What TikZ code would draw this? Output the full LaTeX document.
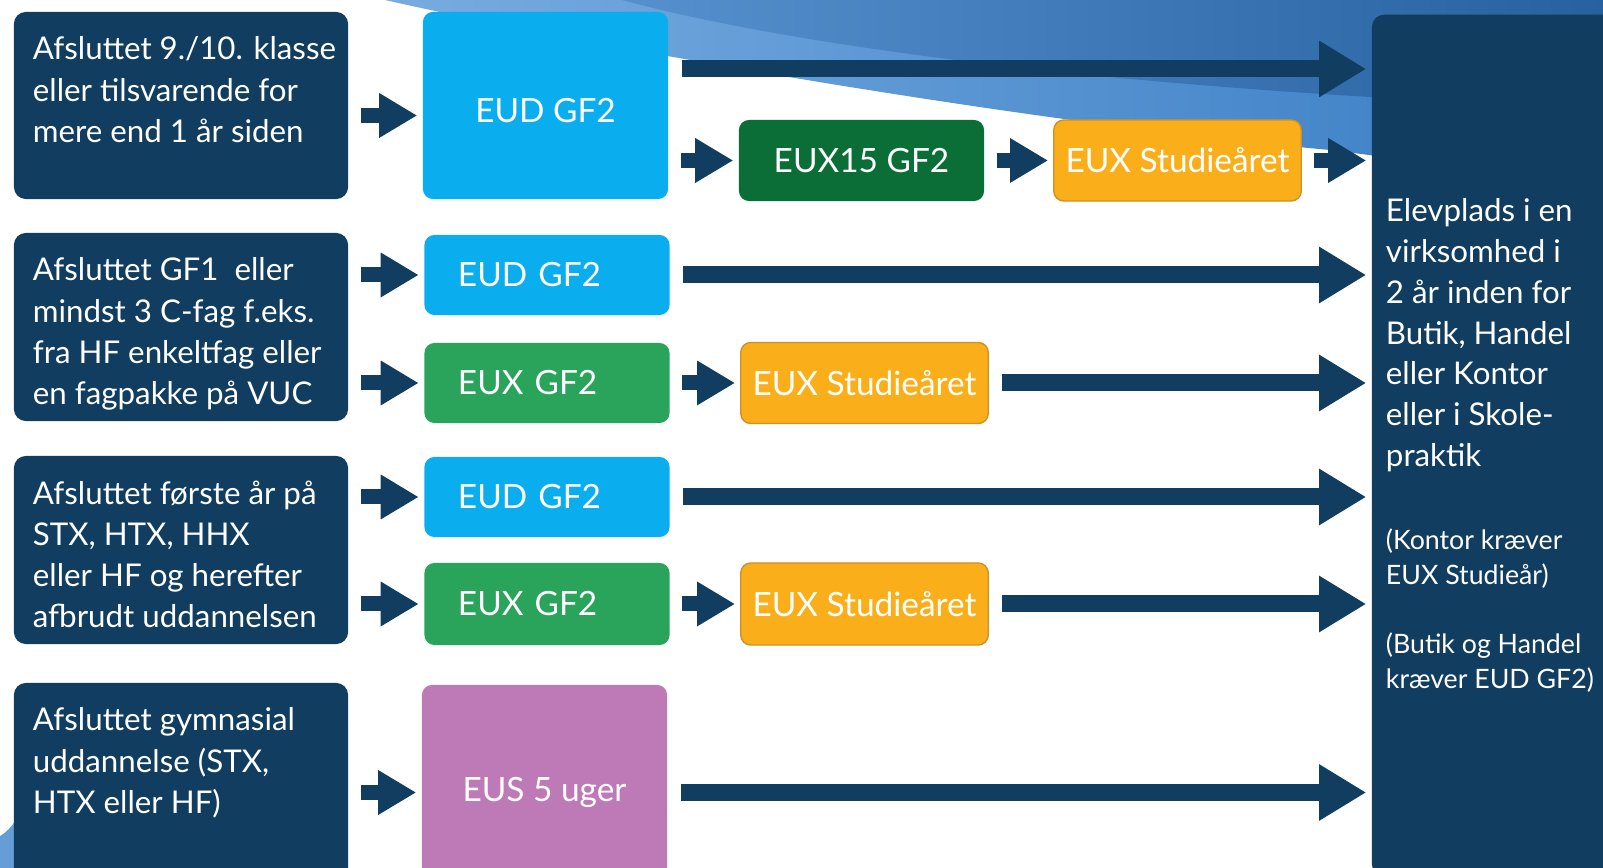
\documentclass[tikz,border=0pt]{standalone}
\usepackage{fontspec}
\setmainfont{Lato}
\usepackage{xcolor}
\usepackage{tikz}
\usetikzlibrary{positioning}
\usetikzlibrary{arrows.meta}

\definecolor{navy}{RGB}{16,61,96}
\definecolor{eudblaa}{RGB}{10,174,239}
\definecolor{euxmoerk}{RGB}{11,110,55}
\definecolor{euxgroen}{RGB}{42,163,91}
\definecolor{studorange}{RGB}{250,174,26}
\definecolor{studkant}{RGB}{205,145,40}
\definecolor{eusviolet}{RGB}{190,122,182}
\definecolor{swooshlys}{RGB}{120,172,224}
\definecolor{swooshmid}{RGB}{56,124,196}
\definecolor{swooshmoerk}{RGB}{40,97,160}

\newcommand{\venstretekst}[2]{\parbox[t][#1][t]{3.1cm}{\raggedright\leftskip=0.07cm #2}}

\tikzset{
  kilde/.style={fill=navy, rounded corners=0.12cm, inner xsep=0.12cm, inner ysep=0.25cm,
    text=white, font=\fontsize{8.9}{11.7}\selectfont},
  boks/.style={rounded corners=0.1cm, text=white, minimum width=2.45cm,
    font=\fontsize{9.5}{11.5}\selectfont},
  lille/.style={boks, text width=1.78cm, align=left, inner xsep=0.33cm, minimum height=0.8cm},
  stor/.style={boks, align=center},
  studie/.style={boks, fill=studorange, draw=studkant, line width=0.4pt, minimum height=0.81cm},
  maal/.style={fill=navy, rounded corners=0.12cm, inner xsep=0.14cm, text=white, minimum height=8.61cm},
  kort/.style={line width=0.15cm, draw=navy, -{Triangle[length=0.38cm,width=0.42cm]},
    shorten <=0.12cm, shorten >=0.05cm},
  lang/.style={line width=0.17cm, draw=navy, -{Triangle[length=0.47cm,width=0.53cm]},
    shorten <=0.13cm, shorten >=0.05cm}
}

\begin{document}
\begin{tikzpicture}[x=0.01cm, y=-0.01cm]
	\useasboundingbox (0,0) rectangle (1603,868);
	\clip (0,0) rectangle (1603,868);

	\shade[left color=swooshlys, right color=swooshmid] (385,0) .. controls (560,40) and (1000,120) .. (1330,150) -- (1603,185) -- (1603,0) -- cycle;
	\shade[left color=swooshmid!85!white, right color=swooshmoerk] (622,0) .. controls (750,35) and (1000,75) .. (1370,97) -- (1603,110) -- (1603,0) -- cycle;
	\fill[swooshlys!70!swooshmid] (0,836) .. controls (7,832) and (12,826) .. (16,820) -- (16,868) -- (0,868) -- cycle;

	\node[kilde] (k1) at (181,105.5) {\venstretekst{1.37cm}{Afsluttet 9./10. klasse\\eller tilsvarende for\\mere end 1 år siden}};
	\node[kilde] (k2) at (181,327) {\venstretekst{1.38cm}{Afsluttet GF1~ eller\\mindst 3 C-fag f.eks.\\fra HF enkeltfag eller\\en fagpakke på VUC}};
	\node[kilde] (k3) at (181,550) {\venstretekst{1.38cm}{Afsluttet første år på\\STX, HTX, HHX\\eller HF og herefter\\afbrudt uddannelsen}};
	\node[kilde] (k4) at (181,791.5) {\venstretekst{1.67cm}{Afsluttet gymnasial\\uddannelse (STX,\\HTX eller HF)}};

	\node[stor, fill=eudblaa, minimum height=1.87cm, text height=0.45cm, text depth=0.1cm] (eud1) at (545.5,105.5) {EUD GF2};
	\node[stor, fill=euxmoerk, minimum height=0.81cm] (eux15) at (861.5,160.5) {EUX15 GF2};
	\node[studie] (stud1) at (1177.5,160.5) {EUX Studieåret};

	\node[lille, fill=eudblaa] (eud2) at (547,275) {EUD GF2};
	\node[lille, fill=euxgroen] (eux2) at (547,383) {EUX GF2};
	\node[studie] (stud2) at (864.5,383) {EUX Studieåret};

	\node[lille, fill=eudblaa] (eud3) at (547,497) {EUD GF2};
	\node[lille, fill=euxgroen, minimum height=0.82cm] (eux3) at (547,604) {EUX GF2};
	\node[studie, minimum height=0.82cm] (stud3) at (864.5,604) {EUX Studieåret};

	\node[stor, fill=eusviolet, minimum height=2.15cm] (eus) at (544.5,792.5) {EUS 5 uger};

	\node[maal] (mal) at (1506,445.5) {\parbox{2.4cm}{\raggedright
		{\fontsize{8.9}{11.6}\selectfont Elevplads i en\\virksomhed i\\2 år inden for\\Butik, Handel\\eller Kontor\\eller i Skole-\\praktik\par}
		\vspace{0.48cm}
		{\fontsize{7.6}{10}\selectfont (Kontor kræver\\EUX Studieår)\par}
		\vspace{0.33cm}
		{\fontsize{7.6}{10}\selectfont (Butik og Handel\\kræver EUD GF2)\par}}};

	\coordinate (p1) at ([yshift=0.365cm]eud1.east);
	\draw[kort] ([yshift=-0.1cm]k1.east) -- ([yshift=-0.1cm]eud1.west);
	\draw[lang] (p1) -- (p1 -| mal.west);
	\draw[kort] (eud1.east |- eux15) -- (eux15);
	\draw[kort] (eux15) -- (stud1);
	\draw[kort] (stud1) -- (stud1 -| mal.west);

	\draw[kort] (k2.east |- eud2) -- (eud2);
	\draw[lang] (eud2) -- (eud2 -| mal.west);
	\draw[kort] (k2.east |- eux2) -- (eux2);
	\draw[kort] (eux2) -- (stud2);
	\draw[lang] (stud2) -- (stud2 -| mal.west);

	\draw[kort] (k3.east |- eud3) -- (eud3);
	\draw[lang] (eud3) -- (eud3 -| mal.west);
	\draw[kort] (k3.east |- eux3) -- (eux3);
	\draw[kort] (eux3) -- (stud3);
	\draw[lang] (stud3) -- (stud3 -| mal.west);

	\draw[kort] (k4.east |- eus) -- (eus);
	\draw[lang] (eus) -- (eus -| mal.west);
\end{tikzpicture}
\end{document}
